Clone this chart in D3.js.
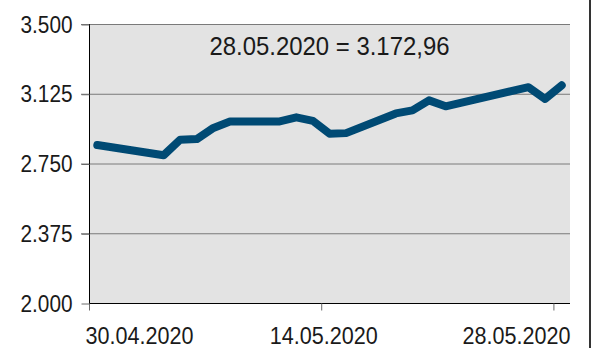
<!DOCTYPE html>
<html>
<head>
<meta charset="utf-8">
<script src="https://cdn.jsdelivr.net/npm/d3@7"></script>
<style>
  html, body { margin: 0; padding: 0; background: #ffffff; }
  svg { display: block; }
  text { font-family: "Liberation Sans", Arial, sans-serif; fill: #1a1a1a; }
</style>
</head>
<body>
<svg id="chart" width="599" height="348"></svg>
<script>
// Trading days and closing values
const dates = ["2020-04-30", "2020-05-04", "2020-05-05", "2020-05-06", "2020-05-07", "2020-05-08",
               "2020-05-11", "2020-05-12", "2020-05-13", "2020-05-14", "2020-05-15",
               "2020-05-18", "2020-05-19", "2020-05-20", "2020-05-21",
               "2020-05-26", "2020-05-27", "2020-05-28"];
const values = [2852, 2797, 2881, 2884, 2944, 2978,
                2979, 3001, 2982, 2913, 2916,
                3022, 3038, 3092, 3060,
                3163, 3100, 3172.96];

const yTickValues = [2000, 2375, 2750, 3125, 3500];
const yTickLabels = ["2.000", "2.375", "2.750", "3.125", "3.500"];
const xTickDates = ["2020-04-30", "2020-05-14", "2020-05-28"];
const xTickLabels = ["30.04.2020", "14.05.2020", "28.05.2020"];
const annotation = "28.05.2020 = 3.172,96";

const parse = d3.utcParse("%Y-%m-%d");
const DAY = 24 * 3600 * 1000;

const svg = d3.select("#chart");
const plotLeft = 89, plotRight = 570, plotTop = 24, plotBottom = 303;

// Condensed look: squeeze regular glyphs horizontally to the given width
function condense(sel, width) {
  sel.attr("textLength", width).attr("lengthAdjust", "spacingAndGlyphs");
}

// One slot per calendar day; points sit in the middle of their slot
const x = d3.scaleUtc()
  .domain([parse("2020-04-30"), new Date(+parse("2020-05-28") + DAY)])
  .range([plotLeft, plotRight]);
const y = d3.scaleLinear().domain([2000, 3500]).range([plotBottom + 0.5, plotTop + 0.5]);

// Plot background
svg.append("rect")
  .attr("x", plotLeft).attr("y", plotTop)
  .attr("width", plotRight - plotLeft).attr("height", plotBottom - plotTop)
  .attr("fill", "#e3e3e3");

// Horizontal gridlines (with short outer ticks)
svg.append("g").selectAll("line")
  .data(yTickValues.filter(v => v > 2000))
  .join("line")
  .attr("x1", plotLeft - 8).attr("x2", plotRight)
  .attr("y1", d => y(d)).attr("y2", d => y(d))
  .attr("stroke", "#7a7a7a").attr("stroke-width", 1);

// Y axis
const yAxis = svg.append("g")
  .attr("transform", `translate(${plotLeft + 0.5},0)`)
  .call(d3.axisLeft(y)
    .tickValues(yTickValues)
    .tickSize(8)
    .tickPadding(9)
    .tickFormat((d, i) => yTickLabels[i]));
yAxis.select(".domain").attr("stroke", "#000").attr("d", `M0,${plotTop}V${plotBottom + 0.5}`);
yAxis.selectAll(".tick line").attr("stroke", "#6a6a6a");
yAxis.selectAll(".tick text")
  .attr("font-size", 24)
  .attr("dy", 7.5)
  .call(condense, 52);

// X axis
const xAxis = svg.append("g")
  .attr("transform", `translate(0,${plotBottom + 0.5})`)
  .call(d3.axisBottom(x)
    .tickValues(xTickDates.map(parse))
    .tickSize(7)
    .tickPadding(8)
    .tickFormat((d, i) => xTickLabels[i]));
xAxis.select(".domain").attr("stroke", "#000").attr("d", `M${plotLeft},0H${plotRight}`);
xAxis.selectAll(".tick line").attr("stroke", "#6a6a6a");
xAxis.selectAll(".tick text")
  .attr("font-size", 23.5)
  .attr("dy", 25)
  .attr("text-anchor", (d, i) => i === 0 ? "start" : (i === xTickLabels.length - 1 ? "end" : "middle"))
  .attr("dx", (d, i) => i === 0 ? -4 : (i === xTickLabels.length - 1 ? (plotRight - x(d)) : 2))
  .call(condense, 108);

// Index line
const line = d3.line()
  .x((d, i) => x(new Date(+parse(dates[i]) + DAY / 2)))
  .y(d => y(d));
svg.append("path")
  .datum(values)
  .attr("d", line)
  .attr("fill", "none")
  .attr("stroke", "#004a74")
  .attr("stroke-width", 8)
  .attr("stroke-linejoin", "round")
  .attr("stroke-linecap", "round");

// Latest value caption
svg.append("text")
  .attr("x", (plotLeft + plotRight) / 2).attr("y", 55)
  .attr("text-anchor", "middle")
  .attr("font-size", 26.5)
  .text(annotation)
  .call(condense, 240);

// Right-hand frame rule
svg.append("line")
  .attr("x1", 590).attr("x2", 590).attr("y1", 0).attr("y2", 348)
  .attr("stroke", "#333").attr("stroke-width", 2);
</script>
</body>
</html>
